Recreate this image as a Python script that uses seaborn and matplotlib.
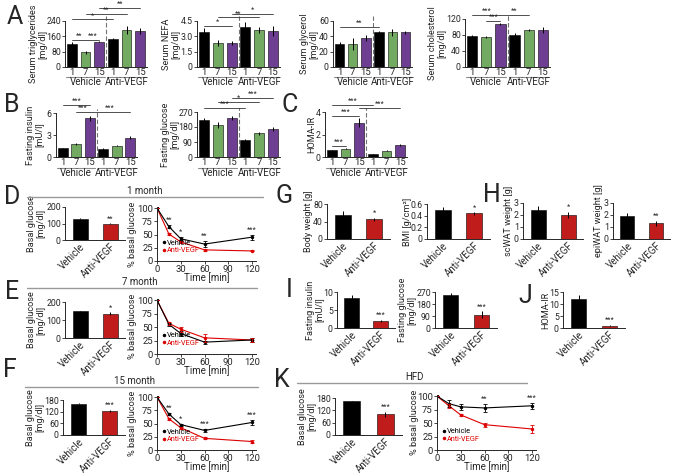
import numpy as np
import pandas as pd
import matplotlib
matplotlib.use('Agg')
import matplotlib.pyplot as plt
import matplotlib.transforms as mtransforms
from matplotlib.lines import Line2D
import seaborn as sns

# Data

cond_keys = ['V1', 'V7', 'V15', 'A1', 'A7', 'A15']
dose_labels = ['1', '7', '15', '1', '7', '15']
group_names = ['Vehicle', 'Anti-VEGF']

tg_mean = [120, 78, 133, 147, 193, 187]
tg_err = [8, 8, 5, 5, 20, 15]
tg_sig = [(0, 1, 140, '**'), (1, 2, 140, '***'), (0, 3, 248, '*'), (1, 4, 278, '**'), (2, 5, 308, '**')]

nefa_mean = [3.4, 2.35, 2.35, 3.95, 3.65, 3.5]
nefa_err = [0.4, 0.3, 0.2, 0.5, 0.3, 0.5]
nefa_sig = [(0, 2, 4.0, '*'), (1, 4, 4.85, '**'), (2, 5, 5.2, '*')]

glyc_mean = [30, 30, 38, 45, 45, 45]
glyc_err = [2, 8, 4, 2, 5, 2]
glyc_sig = [(0, 3, 52, '**')]

chol_mean = [78, 75, 107, 79, 92, 93]
chol_err = [2, 3, 3, 7, 2, 8]
chol_sig = [(0, 2, 130, '***'), (1, 2, 115, '***'), (2, 4, 130, '**')]

ins_mean = [1.2, 1.75, 5.3, 1.1, 1.55, 2.65]
ins_err = [0.08, 0.15, 0.35, 0.1, 0.1, 0.25]
ins_sig = [(0, 2, 7.1, '***'), (1, 2, 6.15, '***'), (2, 5, 6.15, '***')]

glu_mean = [225, 195, 233, 103, 143, 170]
glu_err = [12, 18, 12, 8, 8, 12]
glu_sig = [(0, 3, 294, '***'), (1, 4, 330, '*'), (2, 5, 354, '***')]

homa_mean = [0.6, 0.75, 3.05, 0.25, 0.55, 1.05]
homa_err = [0.05, 0.05, 0.4, 0.05, 0.05, 0.1]
homa_sig = [(0, 1, 1.0, '***'), (0, 2, 3.65, '***'), (0, 3, 4.6, '***'), (2, 5, 4.4, '***')]

basal_1m = [130, 98]
basal_1m_err = [5, 4]
basal_7m = [148, 135]
basal_7m_err = [3, 8]
basal_15m = [162, 125]
basal_15m_err = [3, 5]
basal_hfd = [163, 100]
basal_hfd_err = [3, 12]

bw_mean = [55, 45]
bw_err = [10, 4]
bmi_mean = [0.5, 0.44]
bmi_err = [0.05, 0.02]
sc_mean = [2.4, 2.0]
sc_err = [0.35, 0.25]
epi_mean = [1.9, 1.3]
epi_err = [0.3, 0.2]
fi_mean = [8.3, 1.9]
fi_err = [1.0, 0.3]
fg_mean = [245, 100]
fg_err = [20, 25]
hi_mean = [12.2, 1.0]
hi_err = [1.5, 0.2]

times = [0, 15, 30, 60, 120]
ogtt_1m_veh = [100, 65, 42, 32, 45]
ogtt_1m_veh_err = [0, 3, 3, 6, 5]
ogtt_1m_anti = [100, 51, 36, 21, 19]
ogtt_1m_anti_err = [0, 2, 2, 2, 1]
ogtt_1m_stars = [(15, '**'), (30, '*'), (60, '**'), (120, '***')]

ogtt_7m_veh = [100, 55, 38, 22, 26]
ogtt_7m_veh_err = [0, 3, 5, 3, 3]
ogtt_7m_anti = [100, 57, 46, 30, 26]
ogtt_7m_anti_err = [0, 3, 5, 7, 4]

ogtt_15m_veh = [100, 68, 48, 37, 52]
ogtt_15m_veh_err = [0, 2, 2, 3, 4]
ogtt_15m_anti = [100, 59, 42, 22, 16]
ogtt_15m_anti_err = [0, 2, 2, 2, 3]
ogtt_15m_stars = [(15, '**'), (30, '*'), (60, '***'), (120, '***')]

hfd_veh = [100, 86, 80, 78, 82]
hfd_veh_err = [0, 6, 5, 7, 6]
hfd_anti = [100, 82, 65, 47, 39]
hfd_anti_err = [0, 4, 2, 4, 8]
hfd_stars = [(60, '**'), (120, '***')]

# Style

GREEN = '#6bb656'
PURPLE = '#7030a0'
RED = '#dd0000'
group_colors = ['black', GREEN, PURPLE, 'black', GREEN, PURPLE]

sns.set_style('ticks')
plt.rcParams['font.family'] = ['Roboto', 'DejaVu Sans']
plt.rcParams['axes.linewidth'] = 0.7

TICK_FS = 6.3
LABEL_FS = 6.6
STAR_FS = 5.3

W, H = 674, 474
fig = plt.figure(figsize=(W / 100, H / 100), dpi=100)


def add_ax(x0, y0, x1, y1):
    return fig.add_axes([x0 / W, 1 - y1 / H, (x1 - x0) / W, (y1 - y0) / H])


def style_axes(ax, ylim, yticks):
    sns.despine(ax=ax)
    ax.set_ylim(*ylim)
    ax.set_yticks(yticks)
    ax.set_yticklabels([f'{t:g}' if t != 0 else '0' for t in yticks])
    ax.tick_params(axis='y', length=2, width=0.6, pad=1, labelsize=TICK_FS)
    ax.tick_params(axis='x', length=0, pad=1, labelsize=TICK_FS + 0.5)
    ax.set_xlabel('')


def put_ylabel(ax, rect, text, gap):
    # gap: pixels between the y axis and the right edge of the label
    ax.set_ylabel(text, fontsize=LABEL_FS, linespacing=0.95)
    ax.yaxis.set_label_coords(-gap / (rect[2] - rect[0]), 0.5)


def group_panel(rect, means, errs, ylim, yticks, ylabel, sigs, gap, ytl=None):
    ax = add_ax(*rect)
    df = pd.DataFrame({'cond': cond_keys, 'val': means})
    sns.barplot(data=df, x='cond', y='val', hue='cond', palette=group_colors,
                width=0.72, edgecolor='black', linewidth=0.4, legend=False, ax=ax)
    ax.errorbar(np.arange(6), means, yerr=errs, fmt='none', ecolor='black', elinewidth=0.7, capsize=0)
    style_axes(ax, ylim, yticks)
    if ytl is not None:
        ax.set_yticklabels(ytl)
    ax.set_xlim(-0.5, 5.5)
    ax.set_xticks(range(6))
    ax.set_xticklabels(dose_labels)
    ax.axvline(2.5, ymin=0, ymax=1.1, color='0.45', ls=(0, (4, 2)), lw=0.8, clip_on=False)
    put_ylabel(ax, rect, ylabel, gap)
    for i, j, y, s in sigs:
        ax.plot([i, j], [y, y], color='0.2', lw=0.6, clip_on=False)
        ax.text((i + j) / 2, y, s, ha='center', va='bottom', fontsize=STAR_FS, clip_on=False)
    tr = ax.get_xaxis_transform()
    line_tr = mtransforms.offset_copy(tr, fig=fig, y=-10.5, units='dots')
    for k, name in enumerate(group_names):
        ax.plot([3 * k - 0.4, 3 * k + 2.4], [0, 0], color='0.55', lw=0.8, transform=line_tr, clip_on=False)
        ax.text(3 * k + 1, 0, name, ha='center', va='top', fontsize=7, transform=line_tr)
    return ax


def pair_panel(rect, means, errs, ylim, yticks, ylabel, star, gap):
    ax = add_ax(*rect)
    df = pd.DataFrame({'grp': group_names, 'val': means})
    sns.barplot(data=df, x='grp', y='val', hue='grp', palette=['black', RED],
                width=0.5, edgecolor='black', linewidth=0.4, legend=False, ax=ax)
    ax.errorbar([0, 1], means, yerr=errs, fmt='none', ecolor='black', elinewidth=0.7, capsize=0)
    style_axes(ax, ylim, yticks)
    ax.set_xlim(-0.5, 1.5)
    plt.setp(ax.get_xticklabels(), rotation=45, ha='right', rotation_mode='anchor', fontsize=7)
    put_ylabel(ax, rect, ylabel, gap)
    top = means[1] + errs[1] + (ylim[1] - ylim[0]) * 0.02
    ax.text(1, top, star, ha='center', va='bottom', fontsize=STAR_FS)
    return ax


def line_panel(rect, veh, veh_err, anti, anti_err, stars, gap):
    ax = add_ax(*rect)
    df = pd.DataFrame({'Time': times * 2, 'val': veh + anti,
                       'grp': ['Vehicle'] * len(times) + ['Anti-VEGF'] * len(times)})
    sns.lineplot(data=df, x='Time', y='val', hue='grp', palette={'Vehicle': 'black', 'Anti-VEGF': RED},
                 hue_order=['Anti-VEGF', 'Vehicle'], marker='o', markersize=2.5, markeredgewidth=0,
                 lw=0.8, legend=False, ax=ax)
    ax.errorbar(times, veh, yerr=veh_err, fmt='none', ecolor='black', elinewidth=0.6, capsize=1.5, capthick=0.6)
    ax.errorbar(times, anti, yerr=anti_err, fmt='none', ecolor=RED, elinewidth=0.6, capsize=1.5, capthick=0.6)
    style_axes(ax, (0, 102), [0, 25, 50, 75, 100])
    ax.tick_params(axis='x', length=2, width=0.6, pad=1, labelsize=TICK_FS + 0.5)
    ax.tick_params(axis='y', labelsize=TICK_FS + 0.5)
    ax.set_xlim(0, 125)
    ax.set_xticks([0, 30, 60, 90, 120])
    ax.set_xlabel('Time [min]', fontsize=7, labelpad=-1)
    put_ylabel(ax, rect, '% basal glucose', gap)
    for t, s in stars:
        k = times.index(t)
        y = max(veh[k] + veh_err[k], anti[k] + anti_err[k]) + 2
        ax.text(t, y, s, ha='center', va='bottom', fontsize=STAR_FS)
    handles = [Line2D([], [], color='black', marker='o', markersize=1.5, lw=0),
               Line2D([], [], color=RED, marker='o', markersize=1.5, lw=0)]
    leg = ax.legend(handles, group_names, loc='lower left', bbox_to_anchor=(0.02, 0.06), fontsize=5.3,
                    frameon=False, handlelength=0.4, handletextpad=0.2, labelspacing=0.05, borderpad=0)
    for txt, c in zip(leg.get_texts(), ['black', RED]):
        txt.set_color(c)
    return ax


def header(x0, x1, y, xc, text):
    fig.add_artist(Line2D([x0 / W, x1 / W], [1 - y / H, 1 - y / H], transform=fig.transFigure,
                          color='0.6', lw=1.0))
    fig.text(xc / W, 1 - (y - 1) / H, text, ha='center', va='bottom', fontsize=7)


def letter(x, y, s):
    fig.text(x / W, 1 - y / H, s, ha='center', va='center', fontsize=18)


# Row A
group_panel((65, 21, 147, 67), tg_mean, tg_err, (0, 240), [0, 80, 160, 240],
            'Serum triglycerides\n[mg/dl]', tg_sig, 18)
group_panel((197, 21, 280, 67), nefa_mean, nefa_err, (0, 4.5), [0, 1.5, 3.0, 4.5],
            'Serum NEFA\n[mg/dl]', nefa_sig, 17, ytl=['0', '1.5', '3.0', '4.5'])
group_panel((333, 21, 412, 67), glyc_mean, glyc_err, (0, 60), [0, 20, 40, 60],
            'Serum glycerol\n[mg/dl]', glyc_sig, 15)
group_panel((465, 19, 550, 67), chol_mean, chol_err, (0, 120), [0, 40, 80, 120],
            'Serum cholesterol\n[mg/dl]', chol_sig, 19)

# Row B / C
group_panel((56, 113, 137, 157), ins_mean, ins_err, (0, 6), [0, 3, 6],
            'Fasting insulin\n[mU/l]', ins_sig, 12)
group_panel((197, 112, 280, 157), glu_mean, glu_err, (0, 270), [0, 90, 180, 270],
            'Fasting glucose\n[mg/dl]', glu_sig, 18)
group_panel((325, 112, 407, 157), homa_mean, homa_err, (0, 4), [0, 2, 4],
            'HOMA-IR', homa_sig, 9)

# D, E, F (OGTT at different ages)
header(27, 263, 197, 145, '1 month')
pair_panel((65, 207, 125, 240), basal_1m, basal_1m_err, (0, 200), [0, 100, 200],
           'Basal glucose\n[mg/dl]', '**', 20)
line_panel((157, 207, 256, 261), ogtt_1m_veh, ogtt_1m_veh_err, ogtt_1m_anti, ogtt_1m_anti_err,
           ogtt_1m_stars, 20)

header(27, 257, 288, 140, '7 month')
pair_panel((65, 302, 125, 338), basal_7m, basal_7m_err, (0, 200), [0, 100, 200],
           'Basal glucose\n[mg/dl]', '*', 20)
line_panel((157, 299, 256, 354), ogtt_7m_veh, ogtt_7m_veh_err, ogtt_7m_anti, ogtt_7m_anti_err, [], 20)

header(25, 258, 387, 135, '15 month')
pair_panel((63, 400, 125, 435), basal_15m, basal_15m_err, (0, 180), [0, 60, 120, 180],
           'Basal glucose\n[mg/dl]', '***', 19)
line_panel((157, 396, 256, 450), ogtt_15m_veh, ogtt_15m_veh_err, ogtt_15m_anti, ogtt_15m_anti_err,
           ogtt_15m_stars, 20)

# G, H
pair_panel((327, 204, 390, 239), bw_mean, bw_err, (0, 80), [0, 40, 80], 'Body weight [g]', '*', 14)
pair_panel((427, 204, 490, 239), bmi_mean, bmi_err, (0, 0.6), [0, 0.2, 0.4, 0.6], 'BMI [g/cm²]', '*', 15)
pair_panel((523, 203, 583, 239), sc_mean, sc_err, (0, 3), [0, 1, 2, 3], 'scWAT weight [g]', '*', 10)
pair_panel((613, 203, 670, 239), epi_mean, epi_err, (0, 3), [0, 1, 2, 3], 'epiWAT weight [g]', '**', 10)

# I, J
pair_panel((337, 292, 395, 328), fi_mean, fi_err, (0, 10), [0, 5, 10], 'Fasting insulin\n[mU/l]', '***', 13)
pair_panel((435, 292, 497, 328), fg_mean, fg_err, (0, 270), [0, 90, 180, 270],
           'Fasting glucose\n[mg/dl]', '***', 19)
pair_panel((563, 292, 625, 328), hi_mean, hi_err, (0, 15), [0, 5, 10, 15], 'HOMA-IR', '***', 13)

# K (HFD)
header(297, 527, 383, 415, 'HFD')
pair_panel((335, 398, 402, 435), basal_hfd, basal_hfd_err, (0, 180), [0, 60, 120, 180],
           'Basal glucose\n[mg/dl]', '***', 19)
line_panel((437, 395, 536, 450), hfd_veh, hfd_veh_err, hfd_anti, hfd_anti_err, hfd_stars, 18)

for x, y, s in [(15, 17, 'A'), (12, 105, 'B'), (290, 105, 'C'), (12, 197, 'D'), (12, 292, 'E'),
                (10, 370, 'F'), (284, 196, 'G'), (492, 195, 'H'), (289, 290, 'I'), (525, 296, 'J'),
                (282, 380, 'K')]:
    letter(x, y, s)

fig.savefig('out.png', dpi=100)
